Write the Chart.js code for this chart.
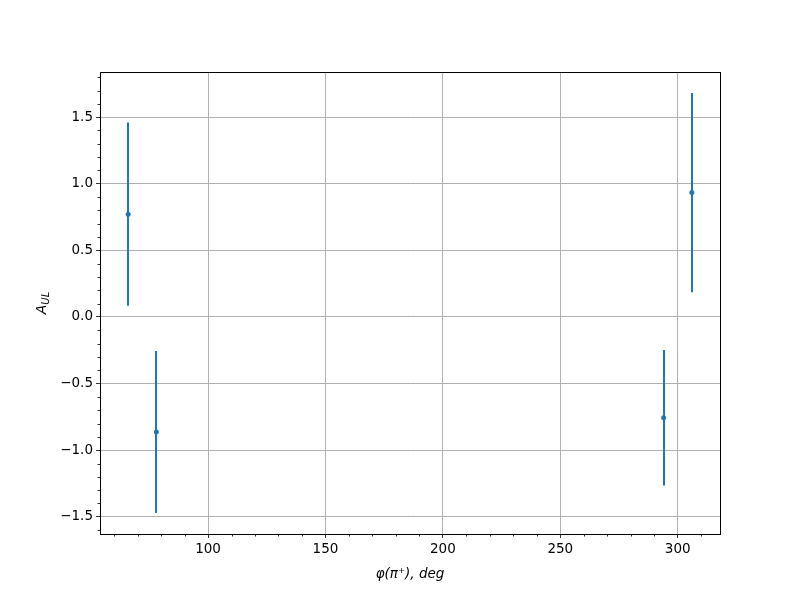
<!DOCTYPE html>
<html lang="en">
<head>
<meta charset="UTF-8">
<title>A_UL vs phi</title>
<style>
    body { margin: 0; background: #fff; }
    #chartContainer { width: 800px; height: 600px; }
</style>
</head>
<body>
<div id="chartContainer">
    <canvas id="myChart" width="800" height="600"></canvas>
</div>
<script src="https://cdn.jsdelivr.net/npm/chart.js"></script>
<script>
// data
const phiValues = [66, 78, 294, 306];
const aulValues = [0.772, -0.863, -0.756, 0.934];
const aulErrors = [0.688, 0.608, 0.508, 0.748];

const xTickValues = [100, 150, 200, 250, 300];
const yTickValues = [-1.5, -1.0, -0.5, 0.0, 0.5, 1.0, 1.5];

const xRange = [54, 318];
const yRange = [-1.629, 1.839];

const blue = '#1f77b4';
const font = 'DejaVu Sans';

// error bars, frame, minor ticks, y label with subscript
const extrasPlugin = {
    id: 'extras',
    beforeDatasetsDraw(chart) {
        const c = chart.ctx;
        const xs = chart.scales.x, ys = chart.scales.y;
        c.save();
        c.strokeStyle = blue;
        c.lineWidth = 2;
        for (let i = 0; i < phiValues.length; i++) {
            const px = Math.round(xs.getPixelForValue(phiValues[i]));
            c.beginPath();
            c.moveTo(px, ys.getPixelForValue(aulValues[i] + aulErrors[i]));
            c.lineTo(px, ys.getPixelForValue(aulValues[i] - aulErrors[i]));
            c.stroke();
        }
        c.restore();
    },
    afterDraw(chart) {
        const c = chart.ctx;
        const a = chart.chartArea;
        const xs = chart.scales.x, ys = chart.scales.y;
        c.save();
        c.strokeStyle = '#000';
        c.lineWidth = 1;
        c.strokeRect(Math.round(a.left) + 0.5, Math.round(a.top) + 0.5,
            Math.round(a.right - a.left), Math.round(a.bottom - a.top));

        c.lineWidth = 0.8;
        c.beginPath();
        for (let v = 60; v <= 310; v += 10) {
            if (v % 50 === 0) continue;
            const px = Math.round(xs.getPixelForValue(v)) + 0.5;
            c.moveTo(px, a.bottom);
            c.lineTo(px, a.bottom + 2.5);
        }
        for (let k = -16; k <= 18; k++) {
            if (k % 5 === 0) continue;
            const py = Math.round(ys.getPixelForValue(k / 10)) + 0.5;
            c.moveTo(a.left, py);
            c.lineTo(a.left - 2.5, py);
        }
        c.stroke();

        // y axis label A_UL
        c.translate(46, (a.top + a.bottom) / 2);
        c.rotate(-Math.PI / 2);
        c.fillStyle = '#000';
        c.textBaseline = 'alphabetic';
        c.font = 'italic 14px "' + font + '"';
        const wA = c.measureText('A').width;
        c.font = 'italic 10px "' + font + '"';
        const wS = c.measureText('UL').width;
        const x0 = -(wA + wS) / 2;
        c.font = 'italic 14px "' + font + '"';
        c.fillText('A', x0, 0);
        c.font = 'italic 10px "' + font + '"';
        c.fillText('UL', x0 + wA, 3);
        c.restore();
    }
};

const ctx = document.getElementById('myChart').getContext('2d');
const myChart = new Chart(ctx, {
    type: 'scatter',
    data: {
        datasets: [{
            data: phiValues.map((x, i) => ({ x: x, y: aulValues[i] })),
            backgroundColor: blue,
            borderColor: blue,
            pointRadius: 2.5,
            pointHoverRadius: 2.5,
            borderWidth: 0
        }]
    },
    options: {
        responsive: false,
        animation: false,
        events: [],
        layout: { padding: { top: 72, right: 80, left: 0, bottom: 0 } },
        plugins: {
            legend: { display: false },
            tooltip: { enabled: false }
        },
        scales: {
            x: {
                type: 'linear',
                min: xRange[0],
                max: xRange[1],
                afterBuildTicks(scale) {
                    scale.ticks = xTickValues.map(v => ({ value: v }));
                },
                afterFit(scale) { scale.height = 66; },
                grid: {
                    color: '#b0b0b0',
                    lineWidth: 1,
                    drawTicks: true,
                    tickLength: 4,
                    tickColor: '#000',
                    tickWidth: 0.8
                },
                border: { display: true, color: '#000', width: 1 },
                ticks: {
                    color: '#000',
                    padding: 3,
                    maxRotation: 0,
                    font: { family: font, size: 13.5 },
                    callback: v => String(v)
                },
                title: {
                    display: true,
                    text: 'φ(π⁺), deg',
                    color: '#000',
                    padding: { top: 4, bottom: 17 },
                    font: { family: font, size: 13.5, style: 'italic' }
                }
            },
            y: {
                type: 'linear',
                min: yRange[0],
                max: yRange[1],
                afterBuildTicks(scale) {
                    scale.ticks = yTickValues.map(v => ({ value: v }));
                },
                afterFit(scale) { scale.width = 100; },
                grid: {
                    color: '#b0b0b0',
                    lineWidth: 1,
                    drawTicks: true,
                    tickLength: 4,
                    tickColor: '#000',
                    tickWidth: 0.8
                },
                border: { display: true, color: '#000', width: 1 },
                ticks: {
                    color: '#000',
                    padding: 3,
                    font: { family: font, size: 13.5 },
                    callback: v => v.toFixed(1).replace('-', '\u2212')
                }
            }
        }
    },
    plugins: [extrasPlugin]
});
</script>
</body>
</html>
